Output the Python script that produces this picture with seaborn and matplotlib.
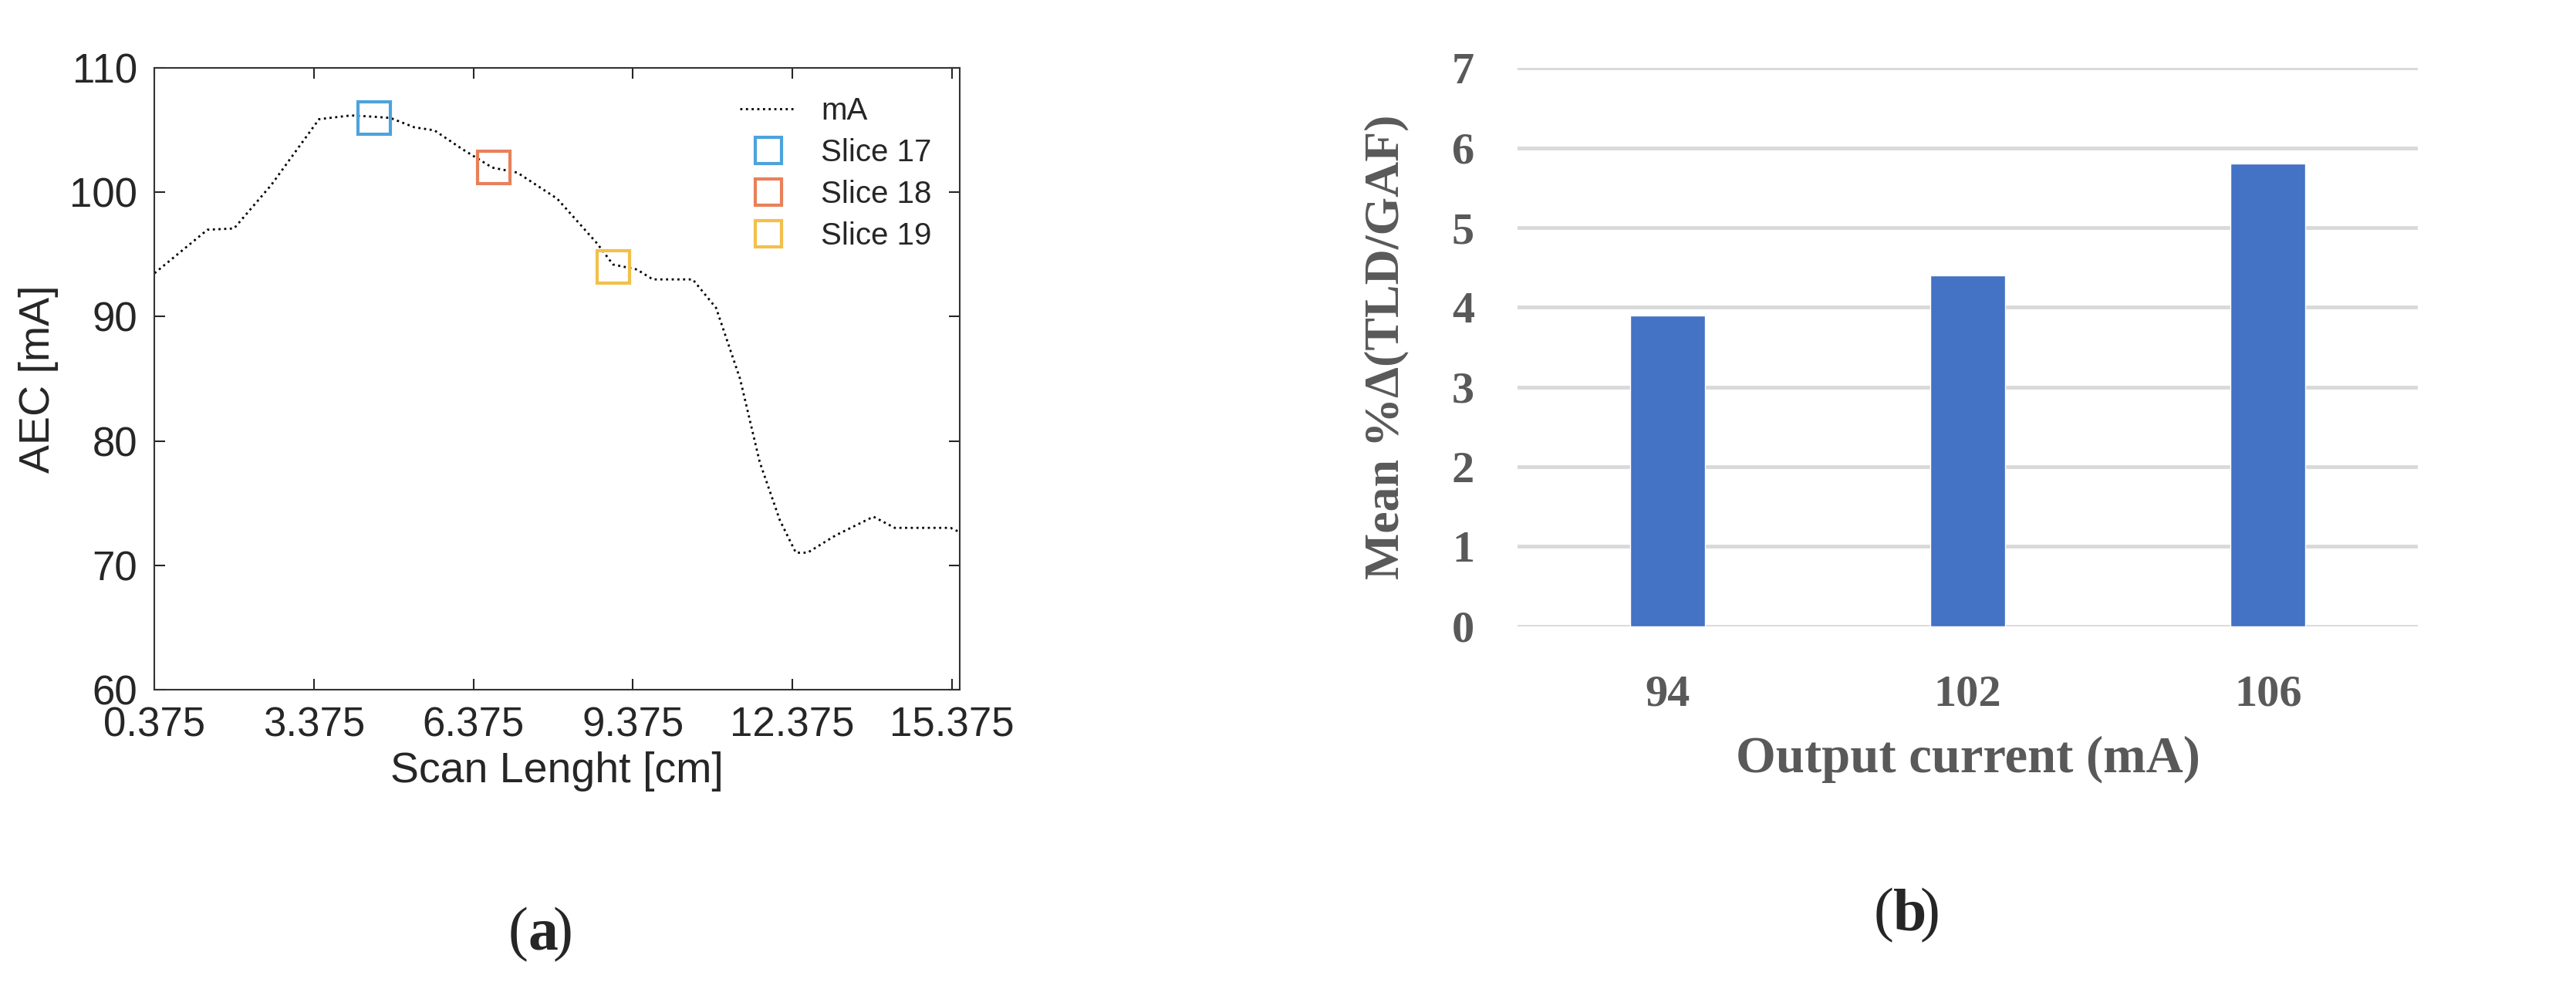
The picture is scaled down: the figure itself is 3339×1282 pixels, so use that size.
import numpy as np
import pandas as pd
import matplotlib
matplotlib.use('Agg')
import matplotlib.pyplot as plt
import seaborn as sns

# ---- left panel data
scan_cm = [0.375, 1.37, 1.87, 2.57, 3.47, 4.07, 4.49, 4.81, 5.26, 5.64, 6.16, 6.73, 7.2,
           7.95, 8.7, 9.0, 9.45, 9.75, 10.5, 10.94, 11.39, 11.76, 12.14, 12.44, 12.66,
           13.19, 13.9, 14.3, 15.35, 15.65]
aec_ma = [93.5, 97, 97.1, 100.6, 105.9, 106.2, 106.1, 106, 105.25, 105, 103.5, 102, 101.6,
          99.5, 95.9, 94.2, 93.8, 93, 93, 90.7, 85, 78.3, 73.6, 71, 71,
          72.4, 73.9, 73, 73, 72.4]
slice_names = ['Slice 17', 'Slice 18', 'Slice 19']
slice_x = [4.5, 6.75, 9.0]
slice_y = [106, 102, 94]
slice_colors = ['#4DA3DB', '#E8805A', '#F2C04A']
x_ticks = [0.375, 3.375, 6.375, 9.375, 12.375, 15.375]

# ---- right panel data
currents = ['94', '102', '106']
mean_delta = [3.9, 4.4, 5.8]

sns.set_style('white')
plt.rcParams['font.family'] = ['Liberation Sans', 'DejaVu Sans']

fig = plt.figure(figsize=(33.39, 12.82), dpi=100)

#---------------------- (a) AEC curve ----------------------------#
ax1 = fig.add_axes([0.060, 0.303, 0.3125, 0.628])
df = pd.DataFrame({'Scan': scan_cm, 'mA': aec_ma})
sns.lineplot(data=df, x='Scan', y='mA', ax=ax1, color='black', ls=':', lw=2, label='mA')
for nm, sx, sy, c in zip(slice_names, slice_x, slice_y, slice_colors):
    ax1.plot(sx, sy, 's', ms=30, mfc='none', mec=c, mew=3, label=nm)
ax1.set_xlim(0.375, 15.52)
ax1.set_ylim(60, 110)
ax1.set_xticks(x_ticks)
ax1.set_xticklabels([str(t) for t in x_ticks])
ax1.set_yticks(range(60, 111, 10))
ax1.tick_params(direction='in', length=10, width=1.5, top=True, right=True,
                bottom=True, left=True, labelsize=38, pad=16, colors='#262626')
for s in ax1.spines.values():
    s.set_linewidth(1.5)
    s.set_color('#333333')
ax1.set_xlabel('Scan Lenght [cm]', fontsize=40, color='#262626', labelpad=6)
ax1.set_ylabel('AEC [mA]', fontsize=40, color='#262626', labelpad=10)
leg = ax1.legend(loc='upper right', frameon=False, fontsize=29, handlelength=1.8,
                 markerscale=0.8, labelspacing=0.4)
fig.text(0.205, 0.04, '(', fontsize=56, family='Liberation Serif', ha='right')
fig.text(0.205, 0.04, 'a', fontsize=56, family='Liberation Serif', fontweight='bold', ha='left')
fig.text(0.2145, 0.04, ')', fontsize=56, family='Liberation Serif', ha='left')

#---------------------- (b) bar chart ----------------------------#
ax2 = fig.add_axes([0.589, 0.367, 0.3497, 0.564])
bdf = pd.DataFrame({'Current': currents, 'Delta': mean_delta})
sns.barplot(data=bdf, x='Current', y='Delta', ax=ax2, color='#4472C4', width=0.25, saturation=1)
ax2.set_ylim(0, 7)
ax2.set_xlim(-0.5, 2.5)
ax2.set_yticks(range(0, 8))
ax2.yaxis.grid(True, color='#D9D9D9', lw=3.5)
ax2.set_axisbelow(True)
for s in ax2.spines.values():
    s.set_visible(False)
ax2.tick_params(length=0, labelsize=42, colors='#595959')
ax2.tick_params(axis='x', pad=45)
ax2.tick_params(axis='y', pad=40)
for lab in ax2.get_xticklabels() + ax2.get_yticklabels():
    lab.set_family('Liberation Serif')
    lab.set_fontweight('bold')
ax2.set_xlabel('Output current (mA)', fontsize=48, family='Liberation Serif',
               fontweight='bold', color='#595959', labelpad=20)
ax2.set_ylabel('Mean %Δ(TLD/GAF)', fontsize=46, family='Liberation Serif',
               fontweight='bold', color='#595959', labelpad=40)
fig.text(0.735, 0.06, '(', fontsize=56, family='Liberation Serif', ha='right')
fig.text(0.735, 0.06, 'b', fontsize=56, family='Liberation Serif', fontweight='bold', ha='left')
fig.text(0.7452, 0.06, ')', fontsize=56, family='Liberation Serif', ha='left')

fig.savefig('out.png', dpi=100)
